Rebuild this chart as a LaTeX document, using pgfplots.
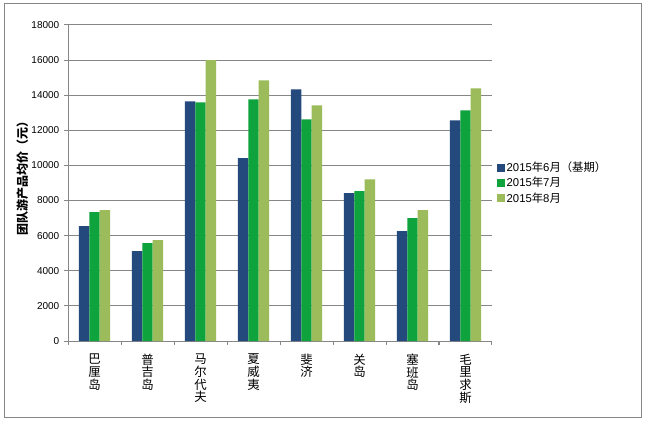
\documentclass[border=0pt]{standalone}
\usepackage{fontspec}
\setmainfont{Liberation Sans}
\newfontfamily\cjk{Noto Sans CJK SC}
\usepackage{pgfplots}
\pgfplotsset{compat=1.18}
\definecolor{cA}{HTML}{23497D}
\definecolor{cB}{HTML}{0EA33C}
\definecolor{cC}{HTML}{9CBB5A}
\definecolor{gridc}{HTML}{868686}
\begin{document}
\begin{tikzpicture}
\fill[white] (0,0) rectangle (483.75pt,315.75pt);
\draw[gridc, line width=0.75pt] (3pt,3pt) rectangle (480.75pt,312.75pt);
\begin{axis}[
  at={(51pt,60pt)}, anchor=south west,
  scale only axis, width=318pt, height=237pt,
  ybar=0pt, bar width=7.8pt,
  xmin=-0.5, xmax=7.5, ymin=0, ymax=18000,
  xtick={0,...,7},
  xticklabels={{巴\\厘\\岛},{普\\吉\\岛},{马\\尔\\代\\夫},{夏\\威\\夷},{斐\\济},{关\\岛},{塞\\班\\岛},{毛\\里\\求\\斯}},
  x tick label style={align=center, anchor=north, font=\cjk\fontsize{9.3}{9.6}\selectfont, yshift=-3pt},
  minor xtick={-0.5,0.5,...,7.5},
  major x tick style={draw=none},
  ytick={0,2000,...,18000},
  scaled y ticks=false,
  y tick label style={font=\fontsize{7.5}{9}\selectfont},
  /pgf/number format/1000 sep={},
  /pgf/number format/assume math mode=true,
  ymajorgrids, grid style={gridc, line width=0.75pt},
  tick align=outside,
  axis x line*=bottom, axis y line*=left,
  axis line style={gridc, line width=0.75pt, -},
  tick style={gridc, line width=0.75pt},
  major tick length=3pt, minor tick length=3pt,
  ylabel={\cjk\bfseries 团队游产品均价（元）},
  ylabel style={at={(axis description cs:-0.108,0.525)}, anchor=center, font=\fontsize{9}{10}\selectfont},
  legend style={at={(1.012,0.5)}, anchor=west, draw=none, fill=none, font=\fontsize{8.5}{10}\selectfont, row sep=0.8pt, inner xsep=0pt, nodes={inner sep=1pt}},
  legend cell align=left,
  legend image code/.code={\fill[#1, draw=none] (0pt,-3pt) rectangle (6pt,3pt);},
]
\addplot[fill=cA, draw=none] coordinates {(0,6540) (1,5120) (2,13650) (3,10410) (4,14330) (5,8420) (6,6260) (7,12570)};
\addplot[fill=cB, draw=none] coordinates {(0,7340) (1,5570) (2,13590) (3,13760) (4,12630) (5,8530) (6,7000) (7,13140)};
\addplot[fill=cC, draw=none] coordinates {(0,7450) (1,5740) (2,16000) (3,14840) (4,13420) (5,9210) (6,7450) (7,14390)};
\legend{2015{\cjk 年}6{\cjk 月（基期）}, 2015{\cjk 年}7{\cjk 月}, 2015{\cjk 年}8{\cjk 月}}
\end{axis}
\pgfresetboundingbox
\useasboundingbox (0,0) rectangle (483.75pt,315.75pt);
\end{tikzpicture}
\end{document}
